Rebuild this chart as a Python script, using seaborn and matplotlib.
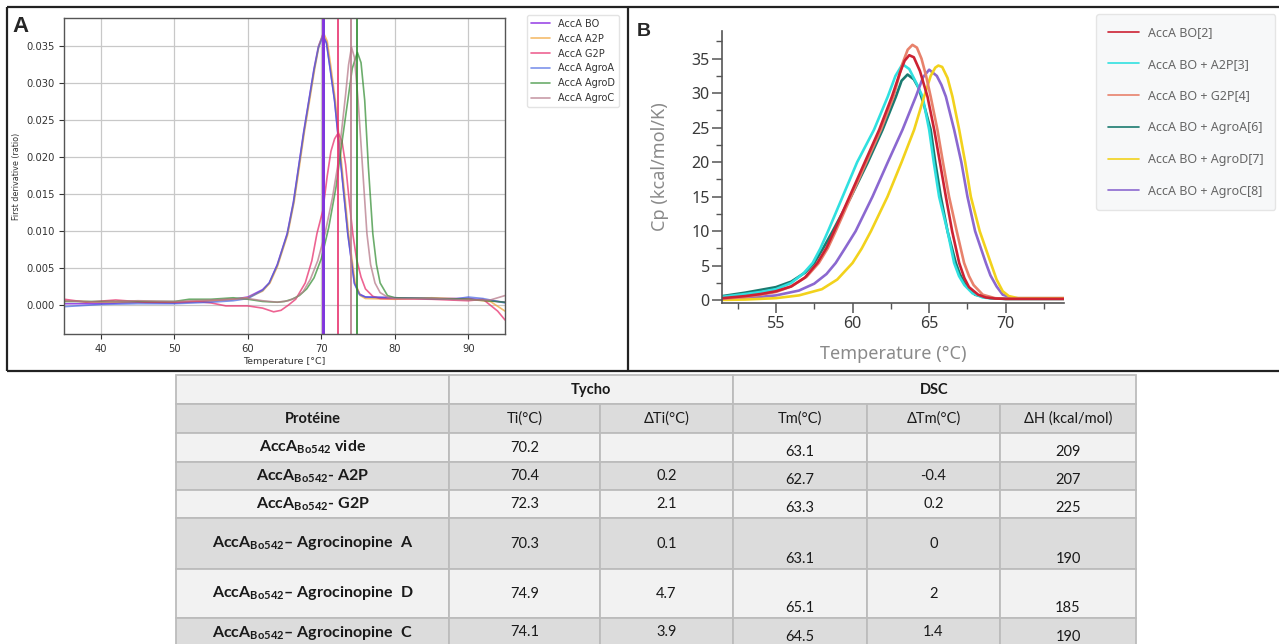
import matplotlib
matplotlib.use("Agg")
import matplotlib.pyplot as plt
import numpy as np
import seaborn as sns
from matplotlib.patches import Rectangle
from matplotlib.ticker import FormatStrFormatter

# ---------------- data: panel A (Tycho, first derivative) ----------------
tycho_labels = ["AccA BO", "AccA A2P", "AccA G2P", "AccA AgroA", "AccA AgroD", "AccA AgroC"]

bo_t = [35, 40, 45, 50, 55, 58, 60, 62, 62.9, 64, 65.35, 66.2, 66.9, 67.6, 68.3, 69, 69.6, 70.2,
        70.7, 71.2, 71.8, 72.7, 73.6, 74.5, 75.2, 76, 80, 85, 90, 95]
bo_d = [0.0002, 0.0002, 0.0004, 0.0003, 0.0006, 0.0008, 0.0011, 0.0021, 0.003, 0.0055, 0.0097, 0.014,
        0.0187, 0.0235, 0.0277, 0.032, 0.035, 0.0366, 0.0355, 0.032, 0.0277, 0.0187, 0.0097, 0.003,
        0.0015, 0.0011, 0.001, 0.0009, 0.0009, 0.0004]

a2p_t = [35, 40, 45, 50, 55, 58, 60, 62, 63, 64, 65.4, 66.3, 67, 67.7, 68.4, 69.1, 69.7, 70.3,
         70.8, 71.3, 71.9, 72.8, 73.7, 74.6, 75.3, 76, 80, 85, 90, 93, 95]
a2p_d = [0.0006, 0.0004, 0.0005, 0.0004, 0.0006, 0.0008, 0.001, 0.0019, 0.003, 0.0052, 0.0095, 0.014,
         0.0187, 0.0235, 0.0277, 0.032, 0.0352, 0.0368, 0.0357, 0.0322, 0.0277, 0.0187, 0.0097, 0.003,
         0.0013, 0.0009, 0.0008, 0.001, 0.0008, 0.0005, -0.0008]

g2p_t = [35, 38, 42, 46, 50, 53, 55, 57, 60, 62, 63.5, 64.5, 65.5, 66.5, 67.8, 68.7, 69.4, 70.2,
         70.8, 71.3, 71.8, 72.3, 72.8, 73.3, 73.8, 74.3, 74.8, 75.4, 76, 77, 78, 85, 90, 92, 94, 95]
g2p_d = [0.0008, 0.0004, 0.0007, 0.0004, 0.0004, 0.0005, 0.0003, -0.0001, -0.0001, -0.0004, -0.0009,
         -0.0007, 0.0, 0.0008, 0.003, 0.006, 0.0097, 0.0128, 0.0175, 0.0208, 0.0225, 0.0233, 0.0222,
         0.019, 0.014, 0.0095, 0.0062, 0.0038, 0.0022, 0.0012, 0.0009, 0.0008, 0.0006, 0.0008,
         -0.0008, -0.002]

agroa_t = [35, 40, 45, 50, 55, 58, 60, 62, 62.9, 64, 65.35, 66.2, 66.9, 67.6, 68.3, 69, 69.6, 70.2,
           70.7, 71.2, 71.8, 72.7, 73.6, 74.5, 75.2, 76, 80, 85, 88, 90, 92, 95]
agroa_d = [-0.0002, 0.0001, 0.0002, 0.0002, 0.0004, 0.0006, 0.0009, 0.002, 0.003, 0.0054, 0.0096,
           0.0138, 0.0186, 0.0233, 0.0276, 0.0318, 0.0348, 0.0364, 0.0354, 0.0319, 0.0276, 0.0186,
           0.0096, 0.0029, 0.0014, 0.0011, 0.001, 0.0009, 0.0008, 0.0011, 0.0009, 0.0003]

agrod_t = [35, 40, 45, 50, 52, 55, 58, 60, 62, 64, 65, 66, 67, 68, 69, 70, 71, 72, 72.8, 73.6, 74.2,
           74.9, 75.4, 75.9, 76.4, 77.0, 77.5, 78, 79, 80, 85, 90, 95]
agrod_d = [0.0005, 0.0005, 0.0005, 0.0005, 0.0008, 0.0008, 0.001, 0.0008, 0.0005, 0.0004, 0.0005,
           0.0008, 0.0013, 0.0022, 0.0037, 0.0063, 0.0105, 0.016, 0.022, 0.0277, 0.032, 0.0342, 0.0328,
           0.0277, 0.0187, 0.0097, 0.0055, 0.003, 0.0013, 0.001, 0.0009, 0.0008, 0.0004]

agroc_t = [35, 40, 45, 50, 55, 60, 62, 64, 65.5, 66.5, 67.5, 68.5, 69.5, 70.5, 71.5, 72.2, 72.8, 73.3,
           73.7, 74.1, 74.5, 75.0, 75.6, 76.2, 76.7, 77.3, 78, 79, 80, 85, 90, 93, 95]
agroc_d = [0.0006, 0.0004, 0.0006, 0.0005, 0.0007, 0.0009, 0.0006, 0.0004, 0.0006, 0.001, 0.0018,
           0.0035, 0.006, 0.0097, 0.0145, 0.0187, 0.024, 0.0285, 0.0325, 0.0349, 0.0335, 0.0277,
           0.0187, 0.0097, 0.0055, 0.003, 0.0017, 0.0011, 0.0009, 0.0009, 0.0007, 0.0007, 0.0013]

# ---------------- data: panel B (DSC) ----------------
dsc_labels = ["AccA BO[2]", "AccA BO + A2P[3]", "AccA BO + G2P[4]",
              "AccA BO + AgroA[6]", "AccA BO + AgroD[7]", "AccA BO + AgroC[8]"]

red_t = [51.5, 53, 54, 55, 56, 56.9, 57.7, 58.3, 58.8, 59.8, 60.8, 61.74, 62.57, 63.1, 63.4, 63.7,
         64.0, 64.4, 64.89, 65.33, 65.7, 66.09, 66.5, 66.96, 67.3, 67.6, 68.2, 68.7, 69.3, 70, 73.8]
red_cp = [0.3, 0.6, 0.9, 1.3, 2.0, 3.3, 5.4, 7.6, 10, 15, 20, 24.7, 29.5, 33.0, 34.7, 35.5,
          35.2, 33.2, 29.5, 24.7, 20, 15, 10, 5.4, 3.2, 1.9, 0.8, 0.4, 0.25, 0.2, 0.2]

cyan_t = [51.5, 53, 54, 55, 56, 56.8, 57.4, 57.9, 58.4, 59.35, 60.3, 61.4, 62.3, 62.8, 63.26, 63.7,
          64.2, 64.57, 65.0, 65.3, 65.65, 66.2, 66.63, 66.95, 67.3, 67.83, 68.5, 69.2, 70, 73.8]
cyan_cp = [0.5, 0.9, 1.2, 1.6, 2.5, 3.9, 5.4, 7.5, 10, 15, 20, 24.7, 29.5, 32.5, 34.2, 33.5,
           31.3, 29.5, 24.7, 20, 15, 10, 5.4, 3.5, 2.2, 1.0, 0.4, 0.25, 0.2, 0.2]

salmon_t = [51.5, 53, 54, 55, 56, 57, 57.8, 58.4, 58.9, 59.9, 60.9, 61.85, 62.67, 63.26, 63.6,
            63.91, 64.2, 64.5, 64.8, 65.1, 65.54, 65.9, 66.3, 66.8, 67.28, 67.6, 67.9, 68.5, 69.3,
            70, 73.8]
salmon_cp = [0.2, 0.5, 0.8, 1.2, 2.0, 3.4, 5.4, 7.6, 10, 15, 20, 24.7, 29.5, 34.3, 36.3, 37.0,
             36.6, 35.0, 32.5, 29.5, 24.7, 20, 15, 10, 5.4, 3.5, 2.2, 0.8, 0.3, 0.2, 0.2]

teal_t = [51.5, 53, 54, 55, 56, 56.9, 57.5, 58.1, 58.7, 59.9, 61.0, 61.96, 62.83, 63.2, 63.59, 64.0,
          64.3, 64.7, 65.1, 65.4, 65.76, 66.2, 66.74, 67.0, 67.3, 68, 69, 70, 73.8]
teal_cp = [0.6, 1.1, 1.5, 1.9, 2.7, 4.0, 5.4, 7.6, 10, 15, 20, 24.7, 29.5, 31.8, 32.7, 32.0,
           30.8, 28.0, 24.7, 20, 15, 10, 5.4, 3.8, 2.5, 0.8, 0.3, 0.2, 0.2]

yellow_t = [51.5, 53, 55, 56.5, 58, 59, 60.0, 60.6, 61.2, 62.28, 63.2, 64.02, 64.67, 65.1, 65.4,
            65.6, 65.85, 66.2, 66.52, 66.96, 67.35, 67.72, 68.3, 69.02, 69.4, 69.8, 70.2, 70.8, 73.8]
yellow_cp = [0.05, 0.1, 0.3, 0.7, 1.6, 3.0, 5.4, 7.5, 10, 15, 20, 24.7, 29.5, 32.5, 33.7,
             34.0, 33.8, 32.2, 29.5, 24.7, 20, 15, 10, 5.4, 3.0, 1.3, 0.6, 0.3, 0.3]

purple_t = [51.5, 53, 55, 56.5, 57.5, 58.3, 58.9, 59.5, 60.2, 61.3, 62.3, 63.26, 64.13, 64.6, 65.0,
            65.5, 65.8, 66.09, 66.63, 67.1, 67.5, 68.0, 68.7, 69.0, 69.4, 69.8, 70.5, 73.8]
purple_cp = [0.1, 0.3, 0.7, 1.4, 2.4, 3.8, 5.4, 7.5, 10, 15, 20, 24.7, 29.5, 32.3, 33.4, 32.5,
             31.2, 29.5, 24.7, 20, 15, 10, 5.4, 3.6, 2.0, 0.8, 0.3, 0.3]

# ---------------- data: table ----------------
protein_names = ["vide", "- A2P", "- G2P", "\u2013 Agrocinopine  A", "\u2013 Agrocinopine  D",
                 "\u2013 Agrocinopine  C"]
ti = [70.2, 70.4, 72.3, 70.3, 74.9, 74.1]
delta_ti = ["", "0.2", "2.1", "0.1", "4.7", "3.9"]
tm = [63.1, 62.7, 63.3, 63.1, 65.1, 64.5]
delta_tm = ["", "-0.4", "0.2", "0", "2", "1.4"]
delta_h = [209, 207, 225, 190, 185, 190]
col_heads = ["Protéine", "Ti(°C)", "ΔTi(°C)", "Tm(°C)", "ΔTm(°C)", "ΔH (kcal/mol)"]

# ---------------- style ----------------
sns.set_style("ticks")
plt.rcParams["font.family"] = ["DejaVu Sans"]
plt.rcParams["mathtext.fontset"] = "custom"
plt.rcParams["mathtext.rm"] = "Lato"
plt.rcParams["mathtext.bf"] = "Lato:bold"

W, H = 1279, 644
fig = plt.figure(figsize=(W / 100, H / 100), dpi=100)

# background axes in pixel units: panel frames + table
bg = fig.add_axes([0, 0, 1, 1])
bg.set_xlim(0, W)
bg.set_ylim(H, 0)
bg.axis("off")
for xs, ys in [([7, W], [7, 7]), ([7, 7], [7, 371]), ([7, W], [371, 371]), ([628, 628], [7, 371])]:
    bg.plot(xs, ys, color="#222222", lw=1.6, solid_capstyle="butt")

# ---------------- panel A ----------------
axA = fig.add_axes([64.3 / W, 1 - 334 / H, 440.7 / W, 315.7 / H])
tycho_series = [(bo_t, bo_d), (a2p_t, a2p_d), (g2p_t, g2p_d), (agroa_t, agroa_d),
                (agrod_t, agrod_d), (agroc_t, agroc_d)]
tycho_colors = ["#8a2be2", "#f0a030", "#e8306e", "#3a5be0", "#2e8b2e", "#b77b8b"]
tycho_alpha = [0.85, 0.7, 0.75, 0.65, 0.7, 0.75]
for (t, d), lab, c, a in zip(tycho_series, tycho_labels, tycho_colors, tycho_alpha):
    sns.lineplot(x=t, y=d, ax=axA, color=c, alpha=a, lw=1.2, label=lab)
for t_i, c in zip(ti, tycho_colors):
    axA.axvline(t_i, color=c, lw=1.4, alpha=0.85)
axA.axvline(ti[0], color=tycho_colors[0], lw=2.0, alpha=0.8)

axA.set_xlim(35, 95)
axA.set_ylim(-0.0039, 0.0388)
axA.set_xticks([40, 50, 60, 70, 80, 90])
axA.set_yticks(np.arange(0, 0.0351, 0.005))
axA.yaxis.set_major_formatter(FormatStrFormatter("%.3f"))
axA.grid(True, color="#c8c8c8", lw=0.9)
for s in axA.spines.values():
    s.set_color("#555555")
    s.set_linewidth(1.0)
axA.tick_params(labelsize=7.2, colors="#333333", length=3.5, width=0.8)
axA.set_xlabel("Temperature [°C]", fontsize=6.8, color="#333333", labelpad=2)
axA.set_ylabel("First derivative (ratio)", fontsize=5.8, color="#333333", labelpad=4)
legA = axA.legend(loc="upper left", bbox_to_anchor=(527 / W, 1 - 15 / H),
                  bbox_transform=fig.transFigure, fontsize=7, frameon=True,
                  borderaxespad=0, handlelength=2.0, labelspacing=0.5)
legA.get_frame().set_edgecolor("#dddddd")
for txt in legA.get_texts():
    txt.set_color("#333333")

# ---------------- panel B ----------------
axB = fig.add_axes([722.3 / W, 1 - 303 / H, 341.7 / W, 272.3 / H])
axB.patch.set_alpha(0)
dsc_series = [(red_t, red_cp), (cyan_t, cyan_cp), (salmon_t, salmon_cp), (teal_t, teal_cp),
              (yellow_t, yellow_cp), (purple_t, purple_cp)]
dsc_colors = ["#cc2233", "#30e0e0", "#e8826c", "#1a7a70", "#f2d21c", "#8b68d0"]
draw_order = [3, 1, 5, 4, 2, 0]
handles = {}
for k in draw_order:
    t, cp = dsc_series[k]
    sns.lineplot(x=t, y=cp, ax=axB, color=dsc_colors[k], lw=1.9, label=dsc_labels[k])
    handles[k] = axB.get_lines()[-1]

axB.set_xlim(51.5, 73.8)
axB.set_ylim(-0.4, 39.05)
axB.set_xticks([55, 60, 65, 70])
axB.set_xticks([52.5, 57.5, 62.5, 67.5, 72.5], minor=True)
axB.set_yticks(np.arange(0, 36, 5))
axB.set_yticks(np.arange(2.5, 39, 5), minor=True)
sns.despine(ax=axB)
for s in ["left", "bottom"]:
    axB.spines[s].set_color("#555555")
    axB.spines[s].set_linewidth(1.2)
axB.tick_params(which="major", labelsize=11.5, labelcolor="#3a3a3a", color="#555555",
                length=7, width=1.1, pad=2)
axB.tick_params(which="minor", color="#555555", length=4, width=1.0)
for lab in axB.get_xticklabels() + axB.get_yticklabels():
    lab.set_family("Noto Sans")
axB.set_xlabel("Temperature (°C)", fontsize=13, color="#8a8a8a", family="Noto Sans", labelpad=10)
axB.set_ylabel("Cp (kcal/mol/K)", fontsize=13, color="#8a8a8a", family="Noto Sans", labelpad=16)
legB = axB.legend([handles[k] for k in range(6)], dsc_labels, loc="upper left",
                  bbox_to_anchor=(1096 / W, 1 - 14 / H), bbox_transform=fig.transFigure,
                  borderaxespad=0, prop={"family": "Noto Sans", "size": 9}, labelspacing=1.5,
                  handlelength=2.5, handletextpad=0.7, borderpad=0.95, frameon=True, fancybox=True)
legB.get_frame().set_facecolor("#f6f7f8")
legB.get_frame().set_edgecolor("#e0e0e0")
for h in legB.get_lines():
    h.set_linewidth(1.2)
for txt in legB.get_texts():
    txt.set_color("#666666")

# panel letters
fig.text(12 / W, 1 - 27 / H, "A", fontsize=16, fontweight="bold", va="center", family="Liberation Sans")
fig.text(637 / W, 1 - 31 / H, "B", fontsize=14, fontweight="bold", va="center", family="Liberation Sans")

# ---------------- table ----------------
col_edges = [176, 449, 600, 733, 867, 1000, 1136]
row_edges = [375, 404, 433, 462, 490, 518, 569, 618, 647]
light, dark, edge = "#f2f2f2", "#dcdcdc", "#bcbcbc"
tfont = ["Lato", "DejaVu Sans"]


def cell(x0, x1, y0, y1, fc):
    bg.add_patch(Rectangle((x0, y0), x1 - x0, y1 - y0, facecolor=fc, edgecolor=edge, lw=1.3))


def ctext(x, y, s, bold=False, size=10.5):
    bg.text(x, y, s, ha="center", va="center", fontsize=size, family=tfont,
            fontweight="bold" if bold else "normal", color="#1a1a1a")


# header row 1
y0, y1 = row_edges[0], row_edges[1]
cell(col_edges[0], col_edges[1], y0, y1, light)
cell(col_edges[1], col_edges[3], y0, y1, light)
cell(col_edges[3], col_edges[6], y0, y1, light)
ctext((col_edges[1] + col_edges[3]) / 2, (y0 + y1) / 2, "Tycho", bold=True)
ctext((col_edges[3] + col_edges[6]) / 2, (y0 + y1) / 2, "DSC", bold=True)

# header row 2
y0, y1 = row_edges[1], row_edges[2]
for j, head in enumerate(col_heads):
    cell(col_edges[j], col_edges[j + 1], y0, y1, dark)
    ctext((col_edges[j] + col_edges[j + 1]) / 2, (y0 + y1) / 2, head, bold=(j == 0))

# body
for i, name in enumerate(protein_names):
    y0, y1 = row_edges[i + 2], row_edges[i + 3]
    fc = light if i % 2 == 0 else dark
    for j in range(6):
        cell(col_edges[j], col_edges[j + 1], y0, y1, fc)
    xc = [(col_edges[j] + col_edges[j + 1]) / 2 for j in range(6)]
    ym = (y0 + y1) / 2
    ctext(xc[0], ym, r"AccA$_{\mathbf{Bo542}}$" + (" " if i == 0 else "") + name, bold=True, size=11.5)
    ctext(xc[1], ym, f"{ti[i]:.1f}")
    ctext(xc[2], ym, delta_ti[i])
    ctext(xc[3], y1 - 10, f"{tm[i]:.1f}")
    ctext(xc[4], ym, delta_tm[i])
    ctext(xc[5], y1 - 10, f"{delta_h[i]}")

fig.savefig("out.png", dpi=100)
